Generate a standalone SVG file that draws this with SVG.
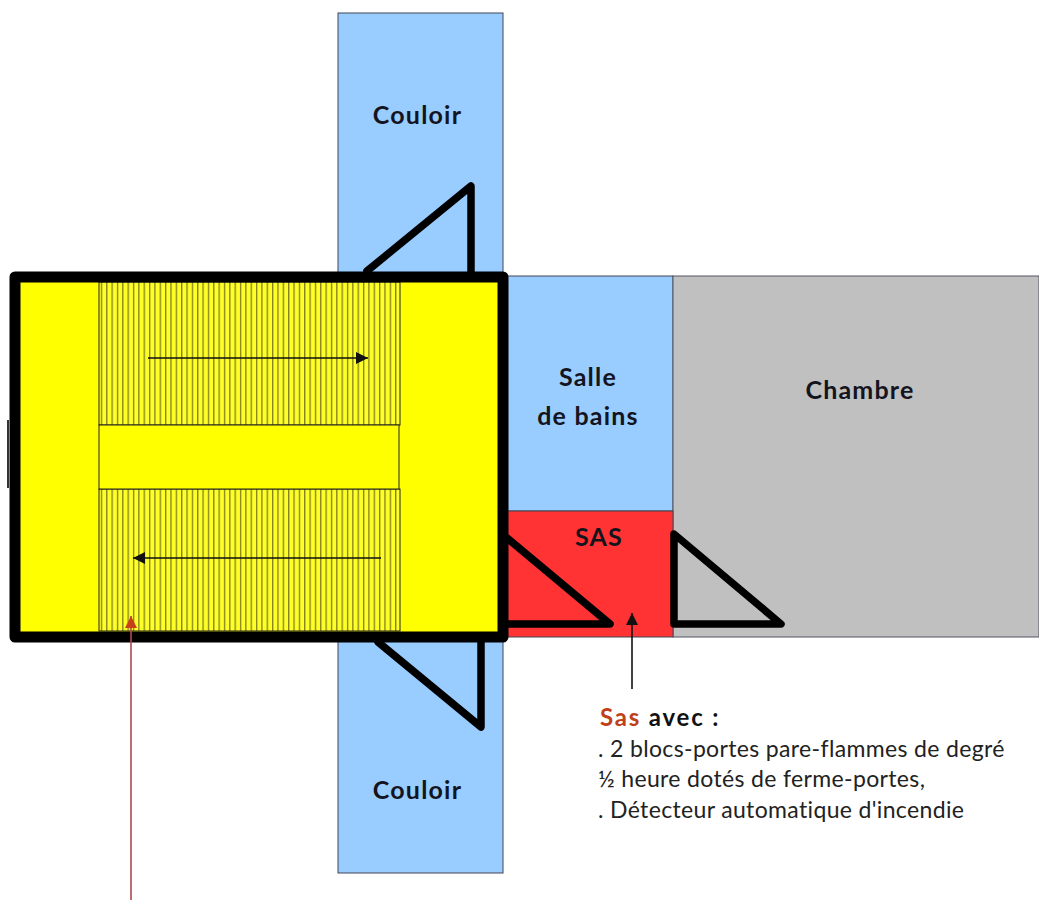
<svg xmlns="http://www.w3.org/2000/svg" width="1039" height="900" viewBox="0 0 1039 900">
<style>
text{font-family:"Lato","Liberation Sans",sans-serif;fill:#111}
.room{stroke:#445;stroke-width:1}
.b{font-weight:700;font-size:25px;letter-spacing:1.2px;text-anchor:middle;fill:#14141e}
.t{font-size:23px;letter-spacing:.35px;fill:#222}
.door{fill:none;stroke:#000;stroke-width:7.500;stroke-linejoin:round;stroke-linecap:round}
.ln{stroke:#111;stroke-width:1.6;fill:none}
</style>
<defs>
<marker id="ah" markerUnits="userSpaceOnUse" markerWidth="13" markerHeight="13" refX="12" refY="6" orient="auto"><path d="M0 0L12 6L0 12z" fill="#111"/></marker>
<marker id="ar" markerUnits="userSpaceOnUse" markerWidth="13" markerHeight="13" refX="12" refY="6" orient="auto"><path d="M0 0L12 6L0 12z" fill="#c8401a"/></marker>
<pattern id="st" patternUnits="userSpaceOnUse" x="99" y="0" width="5.35" height="10"><rect width="5.35" height="10" fill="#ffff28"/><rect x="2" width="1" height="10" fill="#5a5a1e"/></pattern>
</defs>
<g id="couloir-haut"><rect class="room" x="338" y="13" width="165" height="265" fill="#99ccff"/><text class="b" x="417.500" y="124">Couloir</text></g>
<g id="couloir-bas"><rect class="room" x="338" y="636" width="165" height="237" fill="#99ccff"/><text class="b" x="417.500" y="799">Couloir</text></g>
<g id="salle-de-bains"><rect class="room" x="503" y="276" width="170" height="235" fill="#99ccff"/><text class="b" x="588" y="386">Salle</text><text class="b" x="588" y="425">de bains</text></g>
<g id="chambre"><rect x="673" y="276" width="366" height="361" fill="#c0c0c0" stroke="#556" stroke-width="1"/><text class="b" x="860" y="399">Chambre</text></g>
<g id="sas"><rect class="room" x="503" y="511" width="170" height="126" fill="#ff3333"/><text class="b" x="599" y="546">SAS</text></g>
<g id="escalier">
<rect x="15" y="277" width="488" height="360" fill="#ffff00"/>
<rect x="99" y="282" width="301" height="143" fill="url(#st)" stroke="#222" stroke-width="1"/>
<rect x="99" y="489" width="301" height="142" fill="url(#st)" stroke="#222" stroke-width="1"/>
<rect x="99" y="425" width="300" height="64" fill="#ffff00" stroke="#222" stroke-width="1"/>
<rect x="15" y="277" width="488" height="360" fill="none" stroke="#000" stroke-width="11" stroke-linejoin="round"/>
<rect x="7" y="420" width="2" height="68" fill="#333"/>
</g>
<g id="connecteurs">
<path class="door" d="M367 271L471 186V271"/>
<path class="door" d="M378 642L481 727V642"/>
<path class="door" d="M507 538L610 624H507"/>
<path class="door" d="M674 534L781 624H674Z"/>
<path class="ln" d="M148 358H368" marker-end="url(#ah)"/>
<path class="ln" d="M381 558H133" marker-end="url(#ah)"/>
<path class="ln" d="M632 689V613" marker-end="url(#ah)"/>
<path d="M131 900V616" fill="none" stroke="#b0484c" stroke-width="1.600" marker-end="url(#ar)"/>
</g>
<g id="legende">
<text x="600" y="726" font-size="24" font-weight="700" letter-spacing="1.800"><tspan fill="#c0401a">Sas</tspan> avec :</text>
<text class="t" x="598" y="757">. 2 blocs-portes pare-flammes de degré</text>
<text class="t" x="598" y="787" letter-spacing=".6">½ heure dotés de ferme-portes,</text>
<text class="t" x="598" y="818">. Détecteur automatique d'incendie</text>
</g>
</svg>
